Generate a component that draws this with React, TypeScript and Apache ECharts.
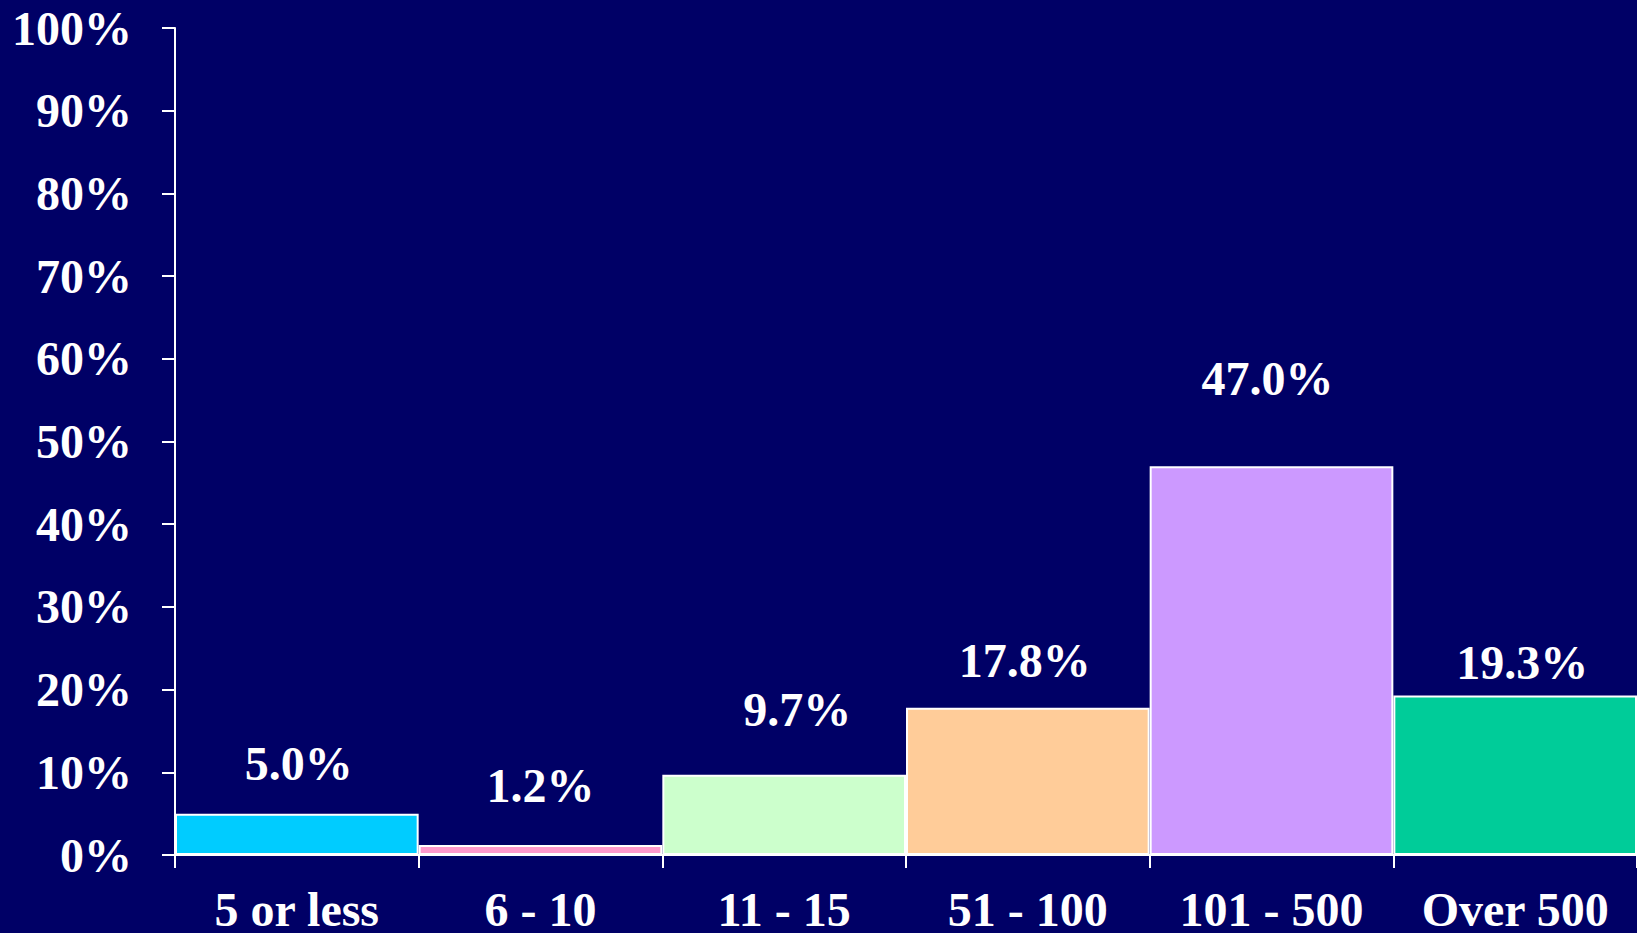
import React, { useEffect, useRef } from "react";
import * as echarts from "echarts";

const categories = ["5 or less", "6 - 10", "11 - 15", "51 - 100", "101 - 500", "Over 500"];
const values = [5.0, 1.2, 9.7, 17.8, 47.0, 19.3];
const barColors = ["#00CCFF", "#FF99CC", "#CCFFCC", "#FFCC99", "#CC99FF", "#00CC99"];
const labelDistances = [26, 36, 41, 23, 64, 9];
const labelOffsets = [2, 0, 13, -3, -4, 7];

export default function App() {
  const ref = useRef<HTMLDivElement>(null);
  useEffect(() => {
    if (!ref.current) return;
    const chart = echarts.init(ref.current, null, { renderer: "svg" });
    const font = '"Liberation Serif", "Times New Roman", serif';
    chart.setOption({
      animation: false,
      backgroundColor: "#000066",
      grid: { left: 175, right: -6, top: 28, bottom: 78, containLabel: false },
      xAxis: {
        type: "category",
        data: categories,
        axisLine: { lineStyle: { color: "#FFFFFF", width: 2 } },
        axisTick: { show: true, length: 13, lineStyle: { color: "#FFFFFF", width: 2 }, alignWithLabel: false },
        axisLabel: { color: "#FFFFFF", fontFamily: font, fontWeight: "bold", fontSize: 48, margin: 30, interval: 0 },
      },
      yAxis: {
        type: "value",
        min: 0,
        max: 100,
        interval: 10,
        splitLine: { show: false },
        axisLine: { show: true, lineStyle: { color: "#FFFFFF", width: 2 } },
        axisTick: { show: true, length: 13, lineStyle: { color: "#FFFFFF", width: 2 } },
        axisLabel: { color: "#FFFFFF", fontFamily: font, fontWeight: "bold", fontSize: 48, margin: 43, formatter: "{value}%" },
      },
      series: [
        {
          type: "bar",
          barCategoryGap: 0,
          data: values.map((v, i) => ({
            value: v,
            itemStyle: { color: barColors[i], borderColor: "#FFFFFF", borderWidth: 2 },
            label: {
              show: true,
              position: "top",
              distance: labelDistances[i],
              offset: [labelOffsets[i], 0],
              formatter: v.toFixed(1) + "%",
              color: "#FFFFFF",
              fontFamily: font,
              fontWeight: "bold",
              fontSize: 48,
            },
          })),
        },
      ],
    });
    return () => chart.dispose();
  }, []);
  return <div ref={ref} style={{ position: "fixed", left: 0, top: 0, width: 1637, height: 933 }} />;
}
